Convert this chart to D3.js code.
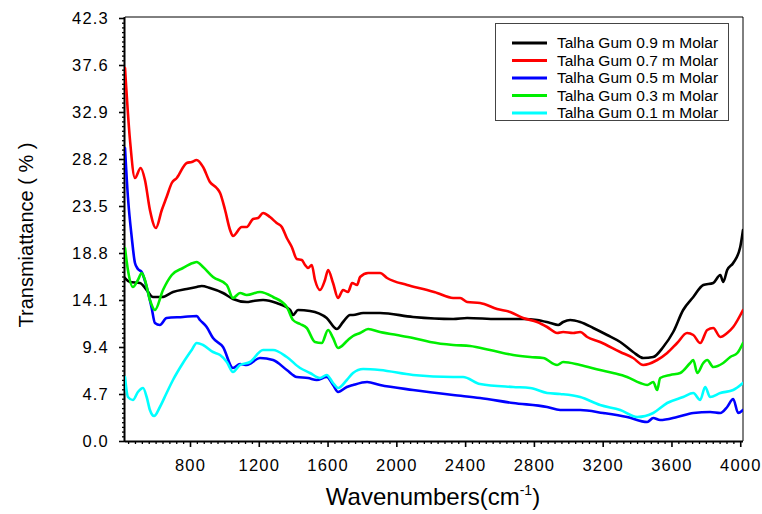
<!DOCTYPE html>
<html>
<head>
<meta charset="utf-8">
<script src="https://cdn.jsdelivr.net/npm/d3@7/dist/d3.min.js"></script>
<style>
  html, body { margin: 0; padding: 0; background: #fff; }
  svg { display: block; font-family: "Liberation Sans", Arial, sans-serif; }
</style>
</head>
<body>
<svg id="chart" width="762" height="514"></svg>
<script>
// ---- Data (wavenumber cm-1, transmittance %) ----
const seriesNames = ["Talha Gum 0.9 m Molar","Talha Gum 0.7 m Molar","Talha Gum 0.5 m Molar","Talha Gum 0.3 m Molar","Talha Gum 0.1 m Molar"];
const seriesColors = ["#000000","#ff0000","#0000ff","#00ee00","#00ffff"];

const black09 = [[422,16.3],[451,15.9],[509,15.8],[548,15.1],[585,14.4],[636,14.4],[701,14.9],[781,15.2],[839,15.4],[868,15.5],[916,15.3],[992,14.8],[1050,14.2],[1130,13.9],[1167,14.0],[1225,14.1],[1304,13.8],[1382,13.1],[1399,12.6],[1428,13.1],[1498,13.0],[1595,12.3],[1654,11.2],[1690,11.9],[1731,12.6],[1748,12.6],[1807,12.8],[1905,12.8],[2097,12.4],[2330,12.2],[2412,12.3],[2586,12.2],[2737,12.2],[2819,12.1],[2895,11.8],[2941,11.6],[2970,11.9],[3011,12.1],[3069,11.9],[3145,11.3],[3226,10.6],[3302,9.9],[3377,8.9],[3436,8.3],[3494,8.4],[3552,9.4],[3610,10.9],[3668,13.1],[3727,14.4],[3785,15.6],[3843,15.8],[3884,16.6],[3901,15.9],[3924,17.1],[3959,17.8],[4000,19.4],[4016,21.1]];

const red07 = [[422,37.3],[451,30.1],[480,26.3],[513,27.3],[538,26.1],[567,23.1],[602,21.3],[636,23.1],[664,24.4],[694,25.8],[723,26.3],[781,27.8],[810,27.9],[839,28.1],[876,27.4],[916,25.9],[955,25.3],[975,24.8],[1004,23.1],[1033,21.1],[1050,20.5],[1101,21.4],[1130,21.4],[1167,22.2],[1196,22.3],[1225,22.8],[1265,22.4],[1304,21.8],[1334,21.4],[1363,20.3],[1392,19.4],[1421,18.2],[1450,18.1],[1469,17.6],[1487,17.3],[1508,17.6],[1527,16.1],[1556,15.1],[1585,16.1],[1603,17.1],[1632,15.8],[1661,14.3],[1690,15.1],[1719,14.9],[1743,15.8],[1772,15.6],[1789,16.4],[1836,16.8],[1905,16.8],[1946,16.3],[2063,15.6],[2179,15.1],[2237,14.8],[2330,14.3],[2371,14.3],[2412,13.9],[2487,13.8],[2586,13.2],[2662,12.9],[2737,12.3],[2819,11.9],[2877,11.4],[2935,10.8],[2970,10.9],[3028,10.8],[3069,10.9],[3110,10.4],[3185,9.9],[3302,8.9],[3377,8.3],[3436,7.6],[3517,8.1],[3575,8.8],[3633,9.8],[3691,10.8],[3727,10.6],[3767,9.8],[3808,11.1],[3843,11.3],[3884,10.4],[3924,10.8],[3959,11.4],[4016,13.1]];

const blue05 = [[422,29.3],[439,24.4],[461,20.4],[480,17.8],[497,17.2],[519,16.9],[548,15.4],[577,13.3],[596,11.8],[625,11.6],[664,12.3],[759,12.4],[839,12.5],[858,12.1],[897,11.4],[934,10.3],[992,9.4],[1050,7.3],[1091,7.7],[1130,7.6],[1207,8.3],[1283,8.1],[1363,7.1],[1421,6.4],[1487,6.3],[1537,6.1],[1595,6.4],[1632,5.6],[1661,4.9],[1712,5.4],[1748,5.6],[1830,5.9],[1905,5.6],[2097,5.1],[2330,4.6],[2487,4.3],[2679,3.8],[2877,3.4],[2953,3.1],[3069,3.1],[3203,2.8],[3342,2.4],[3459,1.9],[3494,2.3],[3534,2.1],[3633,2.4],[3727,2.8],[3825,2.9],[3884,2.8],[3924,3.4],[3959,4.2],[3988,2.8],[4016,3.1]];

const green03 = [[422,19.3],[439,17.1],[468,15.4],[497,16.1],[519,16.8],[538,16.1],[567,14.1],[596,13.1],[643,15.1],[694,16.6],[759,17.3],[817,17.8],[839,17.9],[876,17.4],[934,16.4],[1014,15.6],[1050,14.3],[1091,14.8],[1130,14.6],[1207,14.9],[1283,14.4],[1363,13.4],[1399,12.1],[1440,11.7],[1479,11.3],[1527,9.9],[1566,9.8],[1603,11.1],[1632,10.3],[1661,9.3],[1719,10.1],[1748,10.5],[1789,10.8],[1836,11.2],[1905,10.9],[2004,10.6],[2097,10.3],[2196,9.9],[2330,9.6],[2429,9.5],[2545,9.1],[2679,8.6],[2778,8.4],[2854,8.3],[2935,7.6],[2970,7.9],[3069,7.6],[3185,7.1],[3261,6.8],[3342,6.4],[3418,5.8],[3459,5.6],[3494,5.9],[3517,5.1],[3534,6.3],[3593,6.6],[3651,6.8],[3709,7.8],[3727,8.1],[3750,6.8],[3785,7.8],[3808,8.1],[3843,7.4],[3901,7.8],[3942,8.4],[3983,8.8],[4016,9.8]];

const cyan01 = [[422,6.4],[439,4.4],[468,4.1],[497,4.9],[527,5.3],[548,4.4],[567,3.1],[591,2.5],[625,3.4],[664,4.8],[701,6.1],[759,7.8],[810,9.1],[839,9.8],[876,9.6],[934,8.9],[975,8.6],[1014,7.9],[1050,6.9],[1091,7.6],[1149,7.9],[1225,9.1],[1283,9.1],[1363,8.4],[1440,7.3],[1498,6.8],[1556,6.3],[1595,6.6],[1632,5.8],[1661,5.3],[1712,6.1],[1748,6.8],[1807,7.2],[1905,7.1],[2097,6.6],[2330,6.4],[2388,6.4],[2487,5.7],[2679,5.4],[2778,5.3],[2877,4.8],[2953,4.7],[3069,4.4],[3185,3.6],[3302,3.1],[3401,2.4],[3494,2.8],[3575,3.8],[3668,4.4],[3727,4.8],[3767,4.1],[3796,5.4],[3825,4.4],[3884,4.8],[3959,5.1],[4016,5.8]];

const xTicks = [800,1200,1600,2000,2400,2800,3200,3600,4000];
const yTicks = [0.0,4.7,9.4,14.1,18.8,23.5,28.2,32.9,37.6,42.3];

// ---- Layout ----
const L = 125, R = 743, T = 17, B = 441;
const svg = d3.select("#chart");
const x = d3.scaleLinear().domain([422, 4016]).range([L, R]);
const y = d3.scaleLinear().domain([0, 42.3]).range([B, T + 1]);

// frame (top & right thin)
svg.append("path").attr("d", `M${L},${T}H${R}V${B}`).attr("fill","none").attr("stroke","#000").attr("stroke-width",1);

// minor ticks
const xMinor = d3.range(440, 4001, 40).filter(v => !xTicks.includes(v));
const yMinor = d3.range(0, 423).map(i => i * 0.47).filter((v,i) => i % 10 !== 0 && v <= 42.3);

const gx = svg.append("g").attr("transform", `translate(0,${B})`);
gx.call(d3.axisBottom(x).tickValues(xMinor).tickSize(3).tickFormat(""));
gx.select(".domain").remove();
gx.selectAll("line").attr("stroke-width",1.3);
const gx2 = svg.append("g").attr("transform", `translate(0,${B})`);
gx2.call(d3.axisBottom(x).tickValues(xTicks).tickSize(6).tickPadding(12).tickSizeOuter(0).tickFormat(d3.format("d")));
gx2.select(".domain").attr("stroke-width",2).attr("d", `M${L},0.5H${R}`);
gx2.selectAll("line").attr("stroke-width",1.6);
gx2.selectAll("text").attr("font-size","16.5px").attr("letter-spacing","1.2px").attr("fill","#000")
   .attr("font-family","'Liberation Sans', Arial, sans-serif");

const gy = svg.append("g").attr("transform", `translate(${L},0)`);
gy.call(d3.axisLeft(y).tickValues(yMinor).tickSize(3).tickFormat(""));
gy.select(".domain").remove();
gy.selectAll("line").attr("stroke-width",1.3);
const gy2 = svg.append("g").attr("transform", `translate(${L},0)`);
gy2.call(d3.axisLeft(y).tickValues(yTicks).tickSize(6).tickPadding(10).tickSizeOuter(0).tickFormat(d3.format(".1f")));
gy2.select(".domain").attr("stroke-width",2).attr("d", `M-0.5,${T}V${B}`);
gy2.selectAll("line").attr("stroke-width",1.6);
gy2.selectAll("text").attr("font-size","16.5px").attr("letter-spacing","1.2px").attr("fill","#000")
   .attr("font-family","'Liberation Sans', Arial, sans-serif");

// ---- Lines ----
const allSeries = [black09, red07, blue05, green03, cyan01];
const line = d3.line().x(d => x(d[0])).y(d => y(d[1])).curve(d3.curveMonotoneX);
const clip = svg.append("clipPath").attr("id","clip").append("rect").attr("x",L).attr("y",T).attr("width",R-L).attr("height",B-T);
const lg = svg.append("g").attr("clip-path","url(#clip)");
allSeries.forEach((s, i) => {
  lg.append("path").datum(s).attr("d", line).attr("fill","none")
    .attr("stroke", seriesColors[i]).attr("stroke-width", 2.6)
    .attr("stroke-linejoin","round").attr("stroke-linecap","round");
});

// ---- Legend ----
const leg = svg.append("g");
leg.append("rect").attr("x",495.5).attr("y",23.5).attr("width",233).attr("height",97)
   .attr("fill","#fff").attr("stroke","#444").attr("stroke-width",1);
seriesNames.forEach((n, i) => {
  const yy = 43 + i * 17.5;
  leg.append("line").attr("x1",512).attr("x2",547).attr("y1",yy).attr("y2",yy)
     .attr("stroke",seriesColors[i]).attr("stroke-width",3);
  leg.append("text").attr("x",557).attr("y",yy+5).attr("font-size","15.5px").attr("fill","#000").text(n);
});

// ---- Axis titles ----
const xt = svg.append("text").attr("x",433).attr("y",505).attr("text-anchor","middle")
   .attr("font-size","24px").attr("fill","#000");
xt.append("tspan").text("Wavenumbers(cm");
xt.append("tspan").attr("font-size","14px").attr("dy",-10).text("-1");
xt.append("tspan").attr("dy",10).text(")");

svg.append("text").attr("transform","translate(33,235) rotate(-90)").attr("text-anchor","middle")
   .attr("font-size","20px").attr("fill","#000").text("Transmiattance ( % )");
</script>
</body>
</html>
